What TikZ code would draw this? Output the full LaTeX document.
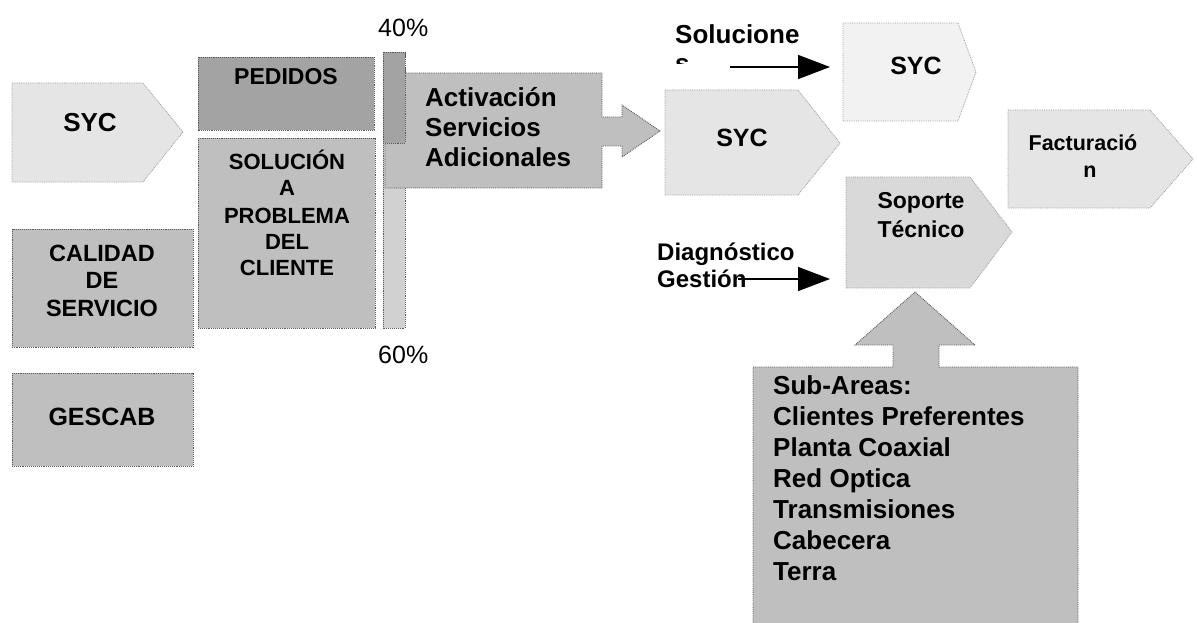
\documentclass[tikz,border=0pt]{standalone}
\usepackage{fontspec}
\setmainfont{Liberation Sans}
\usetikzlibrary{arrows.meta}

% grey levels of the fills
\definecolor{fillDark}{gray}{0.64}
\definecolor{fillMid}{gray}{0.75}
\definecolor{fillBar}{gray}{0.82}
\definecolor{fillLight}{gray}{0.85}
\definecolor{fillPale}{gray}{0.90}
\definecolor{fillFaint}{gray}{0.95}
\definecolor{edgeGray}{gray}{0.35}

\tikzset{
  box/.style={draw=edgeGray, densely dotted, line width=0.9pt},
  faintbox/.style={draw=edgeGray!60, densely dotted, line width=0.8pt},
  txt/.style={inner sep=0pt, anchor=base, font=\bfseries\fontsize{#1}{#1}\selectfont},
  ltxt/.style={inner sep=0pt, anchor=base west, font=\bfseries\fontsize{#1}{#1}\selectfont},
  pct/.style={inner sep=0pt, anchor=base west, font=\fontsize{25}{25}\selectfont},
  conn/.style={line width=1.6pt, -{Triangle[length=32pt,width=24pt]}},
}

\begin{document}
\begin{tikzpicture}[x=1pt,y=-1pt]
\path[use as bounding box] (0,0) rectangle (1197,623);

% ---------- left column ----------
\draw[faintbox, fill=fillPale] (12,83) -- (143,83) -- (183,132) -- (143,182) -- (12,182) -- cycle;
\node[txt=26] (syc1) at (90,132) {SYC};

\draw[box, fill=fillMid] (12,229) rectangle (193,347);
\foreach \t/\y [count=\i] in {CALIDAD/261, DE/288, SERVICIO/316}
  \node[txt=23.5] (cal\i) at (102,\y) {\t};

\draw[box, fill=fillMid] (12,373) rectangle (193,466);
\node[txt=25] (ges) at (102,425) {GESCAB};

% ---------- second column ----------
\draw[box, fill=fillDark] (198,57) rectangle (374,130);
\node[txt=23] (ped) at (286,85) {PEDIDOS};

\draw[box, fill=fillMid] (198,138) rectangle (375,328);
\foreach \t/\y [count=\i] in {SOLUCIÓN/170, A/196, PROBLEMA/223, DEL/249, CLIENTE/275}
  \node[txt=22] (sol\i) at (287,\y) {\t};

% ---------- split bar and activation callout ----------
\draw[box, fill=fillBar] (383,52) rectangle (405,328);
\draw[box, fill=fillMid] (385,73) -- (602,73) -- (602,117) -- (622,117) -- (622,105)
  -- (660,131) -- (622,157) -- (622,146) -- (602,146) -- (602,188) -- (385,188) -- cycle;
\draw[box, fill=fillDark] (383,52) rectangle (405,143);

\node[pct] (p40) at (378,37) {40\%};
\node[pct] (p60) at (378,363) {60\%};

\foreach \t/\y [count=\i] in {Activación/107, Servicios/137, Adicionales/167}
  \node[ltxt=26] (act\i) at (425,\y) {\t};

% ---------- right part ----------
\draw[faintbox, fill=fillPale] (665,90) -- (798,90) -- (840,143) -- (798,195) -- (665,195) -- cycle;
\node[txt=25] (syc2) at (742,147) {SYC};

\draw[faintbox, fill=fillFaint] (843,23) -- (958,23) -- (976,72) -- (958,121) -- (843,121) -- cycle;
\node[txt=25] (syc3) at (916,75) {SYC};

\draw[faintbox, fill=fillPale] (1008,110) -- (1150,110) -- (1193,159) -- (1150,208) -- (1008,208) -- cycle;
\node[txt=21.5] (fac1) at (1083,150) {Facturació};
\node[txt=21.5] (fac2) at (1090,178) {n};

\draw[faintbox, fill=fillLight] (846,177) -- (970,177) -- (1012,232) -- (970,288) -- (846,288) -- cycle;
\node[txt=23] (sop1) at (921,208) {Soporte};
\node[txt=23] (sop2) at (921,237) {Técnico};

% "Solucione" with its wrapped second line cut off
\node[ltxt=26] (solu) at (675,44) {Solucione};
\begin{scope}
  \clip (668,50) rectangle (700,63.5);
  \node[ltxt=26] (solu2) at (675,73) {s};
\end{scope}
\coordinate (solA) at (730,67);
\coordinate (solB) at (830,67);
\draw[conn] (solA) -- (solB);

\node[ltxt=24] (diag1) at (657,260) {Diagnóstico};
\node[ltxt=24] (diag2) at (657,287) {Gestión};
\coordinate (diaA) at (738,279);
\coordinate (diaB) at (830,279);
\draw[conn] (diaA) -- (diaB);

% ---------- sub-areas block with upward arrow ----------
\draw[box, fill=fillMid] (753,367) -- (893,367) -- (893,345) -- (855,345) -- (915,292)
  -- (975,345) -- (939,345) -- (939,367) -- (1078,367) -- (1078,626) -- (753,626) -- cycle;
\foreach \t [count=\i from 0] in {Sub-Areas:, Clientes Preferentes, Planta Coaxial,
    Red Optica, Transmisiones, Cabecera, Terra}
  \node[ltxt=26] (sub\i) at (773,394+31*\i) {\t};
\end{tikzpicture}
\end{document}
